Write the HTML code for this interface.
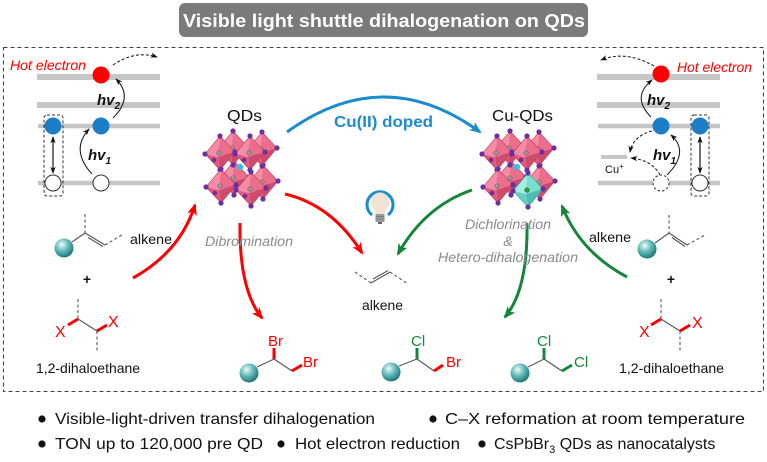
<!DOCTYPE html>
<html><head><meta charset="utf-8"><style>
html,body{margin:0;padding:0;background:#fff;}
svg{display:block;}
text{font-family:"Liberation Sans",Arial,sans-serif;}
</style></head><body>
<svg width="767" height="462" viewBox="0 0 767 462" xmlns="http://www.w3.org/2000/svg">
<defs>
  <radialGradient id="ball" cx="38%" cy="32%" r="70%">
    <stop offset="0" stop-color="#f2fbfb"/>
    <stop offset="0.45" stop-color="#6cc0c0"/>
    <stop offset="1" stop-color="#1b7474"/>
  </radialGradient>
  <marker id="ar" viewBox="0 0 12 10" refX="10" refY="5" markerWidth="13" markerHeight="10" markerUnits="userSpaceOnUse" orient="auto"><path d="M0,0 L12,5 L0,10 L3,5 z" fill="#ff0000"/></marker>
  <marker id="ag" viewBox="0 0 12 10" refX="10" refY="5" markerWidth="13" markerHeight="10" markerUnits="userSpaceOnUse" orient="auto"><path d="M0,0 L12,5 L0,10 L3,5 z" fill="#12873a"/></marker>
  <marker id="ab" viewBox="0 0 12 10" refX="10" refY="5" markerWidth="13" markerHeight="10" markerUnits="userSpaceOnUse" orient="auto"><path d="M0,0 L12,5 L0,10 L3,5 z" fill="#1a8bcc"/></marker>
  <marker id="ak" viewBox="0 0 8 6" refX="7" refY="3" markerWidth="7" markerHeight="6" markerUnits="userSpaceOnUse" orient="auto-start-reverse"><path d="M0,0 L8,3 L0,6 L2,3 z" fill="#111"/></marker>
  <g id="oct">
    <polygon points="0,-17 -15,1 -2,4" fill="#f58ca6"/>
    <polygon points="0,-17 -2,4 15,-1" fill="#ec6e8c"/>
    <polygon points="0,17 -15,1 -2,4" fill="#e05a7a"/>
    <polygon points="0,17 -2,4 15,-1" fill="#cf4b6b"/>
    <polygon points="0,-17 -15,1 0,17 15,-1" fill="none" stroke="#c14260" stroke-width="0.6"/>
    <circle cx="-1" cy="0" r="2.2" fill="#9a9a9a" stroke="#555" stroke-width="0.5"/>
    <circle cx="0" cy="-17" r="2.6" fill="#6b2fa3"/>
    <circle cx="0" cy="17" r="2.6" fill="#6b2fa3"/>
    <circle cx="-15" cy="1" r="2.6" fill="#6b2fa3"/>
    <circle cx="15" cy="-1" r="2.6" fill="#6b2fa3"/>
    <circle cx="-6" cy="7" r="2.3" fill="#6b2fa3"/>
  </g>
  <g id="octc">
    <polygon points="0,-17 -15,1 -2,4" fill="#9ef0e2"/>
    <polygon points="0,-17 -2,4 15,-1" fill="#78e0d0"/>
    <polygon points="0,17 -15,1 -2,4" fill="#63d2c2"/>
    <polygon points="0,17 -2,4 15,-1" fill="#4cbfb0"/>
    <polygon points="0,-17 -15,1 0,17 15,-1" fill="none" stroke="#3aa596" stroke-width="0.6"/>
    <circle cx="-1" cy="0" r="2.3" fill="#3b9a2e" stroke="#1e5e18" stroke-width="0.5"/>
    <circle cx="0" cy="-17" r="2.6" fill="#6b2fa3"/>
    <circle cx="0" cy="17" r="2.6" fill="#6b2fa3"/>
    <circle cx="-15" cy="1" r="2.6" fill="#6b2fa3"/>
    <circle cx="15" cy="-1" r="2.6" fill="#6b2fa3"/>
  </g>
  <g id="crystal">
    <use href="#oct" x="234" y="178"/>
    <use href="#oct" x="263" y="182"/>
    <use href="#oct" x="233" y="148"/>
    <use href="#oct" x="262" y="149"/>
    <use href="#oct" x="220" y="153"/>
    <use href="#oct" x="250" y="153"/>
    <use href="#oct" x="221" y="186"/>
  </g>
</defs>

<!-- Title -->
<rect x="179" y="3" width="409" height="34" rx="6" fill="#7b7b7b"/>
<text x="384" y="27" text-anchor="middle" font-size="18" font-weight="bold" fill="#fff" textLength="402" lengthAdjust="spacingAndGlyphs">Visible light shuttle dihalogenation on QDs</text>

<!-- dashed frame -->
<rect x="3.5" y="47.5" width="760" height="344" fill="none" stroke="#444" stroke-width="1.1" stroke-dasharray="4 3"/>

<!-- ===== Left energy diagram ===== -->
<g stroke="#c6c6c6" stroke-linecap="butt">
  <line x1="37" y1="77" x2="160" y2="77" stroke-width="6"/>
  <line x1="37" y1="105" x2="160" y2="105" stroke-width="6"/>
  <line x1="38" y1="126" x2="160" y2="126" stroke-width="4.5"/>
  <line x1="38" y1="183" x2="160" y2="183" stroke-width="4.5"/>
</g>
<rect x="44" y="115" width="19" height="81" rx="3" fill="none" stroke="#333" stroke-width="1" stroke-dasharray="3 2"/>
<circle cx="101" cy="75" r="8.5" fill="#ff0000"/>
<circle cx="53" cy="126" r="8.5" fill="#1b7ec6"/>
<circle cx="101" cy="126" r="8.5" fill="#1b7ec6"/>
<circle cx="53" cy="183" r="8" fill="#fff" stroke="#333" stroke-width="1"/>
<circle cx="101" cy="183" r="8" fill="#fff" stroke="#333" stroke-width="1"/>
<line x1="53" y1="137" x2="53" y2="173" stroke="#111" stroke-width="1.2" marker-start="url(#ak)" marker-end="url(#ak)"/>
<path d="M92,174 Q70,150 89,129" fill="none" stroke="#222" stroke-width="1.1" marker-end="url(#ak)"/>
<path d="M113,118 Q134,97 116,79" fill="none" stroke="#222" stroke-width="1.1" marker-end="url(#ak)"/>
<path d="M113,65 Q135,50 157,57" fill="none" stroke="#222" stroke-width="1.1" stroke-dasharray="3 2" marker-end="url(#ak)"/>
<text x="10" y="70" font-size="14" font-style="italic" fill="#ff0000" textLength="76" lengthAdjust="spacingAndGlyphs">Hot electron</text>
<text x="97" y="105" font-size="15" font-weight="bold" font-style="italic" fill="#111">hv<tspan font-size="10" dy="4">2</tspan></text>
<text x="88" y="160" font-size="15" font-weight="bold" font-style="italic" fill="#111">hv<tspan font-size="10" dy="4">1</tspan></text>

<!-- ===== Right energy diagram ===== -->
<g stroke="#c6c6c6" stroke-linecap="butt">
  <line x1="597" y1="77" x2="720" y2="77" stroke-width="6"/>
  <line x1="597" y1="105" x2="720" y2="105" stroke-width="6"/>
  <line x1="598" y1="126" x2="720" y2="126" stroke-width="4.5"/>
  <line x1="598" y1="183" x2="720" y2="183" stroke-width="4.5"/>
  <line x1="601" y1="157" x2="627" y2="157" stroke-width="4"/>
</g>
<rect x="691" y="115" width="18" height="81" rx="3" fill="none" stroke="#333" stroke-width="1" stroke-dasharray="3 2"/>
<circle cx="661" cy="74" r="8.5" fill="#ff0000"/>
<circle cx="661" cy="126" r="8.5" fill="#1b7ec6"/>
<circle cx="700" cy="126" r="8.5" fill="#1b7ec6"/>
<circle cx="661" cy="183" r="8" fill="#fff" stroke="#333" stroke-width="1" stroke-dasharray="2.5 2"/>
<circle cx="700" cy="183" r="8" fill="#fff" stroke="#333" stroke-width="1"/>
<line x1="700" y1="137" x2="700" y2="173" stroke="#111" stroke-width="1.2" marker-start="url(#ak)" marker-end="url(#ak)"/>
<path d="M667,175 Q690,152 671,135" fill="none" stroke="#222" stroke-width="1.1" marker-end="url(#ak)"/>
<path d="M651,117 Q631,97 652,80" fill="none" stroke="#222" stroke-width="1.1" marker-end="url(#ak)"/>
<path d="M652,131 Q633,136 630,152" fill="none" stroke="#222" stroke-width="1.1" stroke-dasharray="3 2" marker-end="url(#ak)"/>
<path d="M660,175 Q652,160 631,158" fill="none" stroke="#222" stroke-width="1.1" stroke-dasharray="3 2" marker-end="url(#ak)"/>
<path d="M654,66 Q626,50 601,60" fill="none" stroke="#222" stroke-width="1.1" stroke-dasharray="3 2" marker-end="url(#ak)"/>
<text x="677" y="72" font-size="14" font-style="italic" fill="#ff0000" textLength="75" lengthAdjust="spacingAndGlyphs">Hot electron</text>
<text x="647" y="105" font-size="15" font-weight="bold" font-style="italic" fill="#111">hv<tspan font-size="10" dy="4">2</tspan></text>
<text x="653" y="160" font-size="15" font-weight="bold" font-style="italic" fill="#111">hv<tspan font-size="10" dy="4">1</tspan></text>
<text x="605" y="173" font-size="11" fill="#111">Cu<tspan font-size="8" dy="-4">+</tspan></text>

<!-- ===== Center ===== -->
<text x="227" y="121" font-size="16" fill="#111" textLength="35" lengthAdjust="spacingAndGlyphs">QDs</text>
<text x="492" y="121" font-size="16" fill="#111" textLength="61" lengthAdjust="spacingAndGlyphs">Cu-QDs</text>
<path d="M287,132 Q384,62 480,132" fill="none" stroke="#1a8bcc" stroke-width="3" marker-end="url(#ab)"/>
<text x="334" y="127" font-size="16" font-weight="bold" fill="#1a8bcc" textLength="99" lengthAdjust="spacingAndGlyphs">Cu(II) doped</text>

<!-- crystals -->
<use href="#crystal"/>
<use href="#oct" x="251" y="189"/>
<circle cx="240" cy="167" r="3.2" fill="#35c0e0"/>
<use href="#crystal" x="277"/>
<use href="#octc" x="528" y="190"/>
<circle cx="517" cy="167" r="3.2" fill="#35c0e0"/>

<!-- bulb -->
<path d="M372,215 A13,13 0 1,1 388,215" fill="none" stroke="#1a8bcc" stroke-width="3"/>
<circle cx="380" cy="202" r="9.5" fill="#efe3d3"/>
<path d="M373,207 L376,214 L384,214 L387,207 z" fill="#efe3d3"/>
<rect x="375.5" y="214" width="9" height="8" fill="#9b9b9b"/>
<line x1="375.5" y1="216.5" x2="384.5" y2="216.5" stroke="#777" stroke-width="0.8"/>
<line x1="375.5" y1="219" x2="384.5" y2="219" stroke="#777" stroke-width="0.8"/>
<rect x="378" y="222" width="4" height="2" fill="#666"/>

<!-- red arrows -->
<path d="M285,194 Q332,205 362,253" fill="none" stroke="#ff0000" stroke-width="3" marker-end="url(#ar)"/>
<path d="M240,223 Q239,290 262,318" fill="none" stroke="#ff0000" stroke-width="3" marker-end="url(#ar)"/>
<path d="M133,278 Q180,252 195,205" fill="none" stroke="#ff0000" stroke-width="3" marker-end="url(#ar)"/>
<!-- green arrows -->
<path d="M472,190 Q425,206 398,254" fill="none" stroke="#12873a" stroke-width="3" marker-end="url(#ag)"/>
<path d="M527,223 Q528,290 505,317" fill="none" stroke="#12873a" stroke-width="3" marker-end="url(#ag)"/>
<path d="M627,277 Q580,252 562,206" fill="none" stroke="#12873a" stroke-width="3" marker-end="url(#ag)"/>

<g font-size="14" font-style="italic" fill="#8a8a8a">
  <text x="205" y="246" textLength="88" lengthAdjust="spacingAndGlyphs">Dibromination</text>
  <text x="465" y="229" textLength="86" lengthAdjust="spacingAndGlyphs">Dichlorination</text>
  <text x="508" y="246" text-anchor="middle">&amp;</text>
  <text x="438" y="262" textLength="140" lengthAdjust="spacingAndGlyphs">Hetero-dihalogenation</text>
</g>

<!-- center alkene -->
<g stroke="#555" stroke-width="1.1" fill="none">
  <line x1="355" y1="272" x2="371" y2="283" stroke-dasharray="3 2.5"/>
  <line x1="371" y1="283" x2="390" y2="272"/>
  <line x1="373" y1="279" x2="388" y2="270.5"/>
  <line x1="390" y1="272" x2="408" y2="284" stroke-dasharray="3 2.5"/>
</g>
<text x="362" y="310" font-size="14" fill="#111" textLength="41" lengthAdjust="spacingAndGlyphs">alkene</text>

<!-- left alkene -->
<g stroke="#555" stroke-width="1.1" fill="none">
  <line x1="72" y1="242" x2="85" y2="233"/>
  <line x1="85" y1="214" x2="85" y2="233" stroke-dasharray="3 2.5"/>
  <line x1="85" y1="233" x2="105" y2="245"/>
  <line x1="88" y1="237.5" x2="103" y2="246.5"/>
  <line x1="105" y1="245" x2="122" y2="235" stroke-dasharray="3 2.5"/>
</g>
<circle cx="64" cy="248" r="9.5" fill="url(#ball)"/>
<text x="130" y="244" font-size="14" fill="#111" textLength="42" lengthAdjust="spacingAndGlyphs">alkene</text>
<text x="87" y="284" font-size="14" font-weight="bold" fill="#111" text-anchor="middle">+</text>
<!-- left dihaloethane -->
<g stroke="#555" stroke-width="1.1" fill="none">
  <line x1="78" y1="299" x2="78" y2="319" stroke-dasharray="3 2.5"/>
  <line x1="78" y1="319" x2="97" y2="331"/>
  <line x1="97" y1="331" x2="97" y2="352" stroke-dasharray="3 2.5"/>
</g>
<g stroke="#ff0000" stroke-width="3">
  <line x1="78" y1="319" x2="68" y2="325"/>
  <line x1="97" y1="331" x2="107" y2="325"/>
</g>
<text x="55" y="337" font-size="16" fill="#ff0000">X</text>
<text x="108" y="327" font-size="16" fill="#ff0000">X</text>
<text x="36" y="373" font-size="14" fill="#111" textLength="104" lengthAdjust="spacingAndGlyphs">1,2-dihaloethane</text>

<!-- right alkene -->
<g stroke="#555" stroke-width="1.1" fill="none">
  <line x1="655" y1="243" x2="669" y2="233"/>
  <line x1="669" y1="215" x2="669" y2="233" stroke-dasharray="3 2.5"/>
  <line x1="669" y1="233" x2="687" y2="245"/>
  <line x1="672" y1="237.5" x2="685" y2="246.5"/>
  <line x1="687" y1="245" x2="705" y2="235" stroke-dasharray="3 2.5"/>
</g>
<circle cx="647" cy="249" r="9.5" fill="url(#ball)"/>
<text x="589" y="242" font-size="14" fill="#111" textLength="42" lengthAdjust="spacingAndGlyphs">alkene</text>
<text x="671" y="284" font-size="14" font-weight="bold" fill="#111" text-anchor="middle">+</text>
<g stroke="#555" stroke-width="1.1" fill="none">
  <line x1="661" y1="299" x2="661" y2="319" stroke-dasharray="3 2.5"/>
  <line x1="661" y1="319" x2="680" y2="331"/>
  <line x1="680" y1="331" x2="680" y2="352" stroke-dasharray="3 2.5"/>
</g>
<g stroke="#ff0000" stroke-width="3">
  <line x1="661" y1="319" x2="651" y2="325"/>
  <line x1="680" y1="331" x2="690" y2="325"/>
</g>
<text x="639" y="337" font-size="16" fill="#ff0000">X</text>
<text x="692" y="328" font-size="16" fill="#ff0000">X</text>
<text x="619" y="373" font-size="14" fill="#111" textLength="105" lengthAdjust="spacingAndGlyphs">1,2-dihaloethane</text>

<!-- products -->
<g stroke="#555" stroke-width="1.1" fill="none">
  <line x1="257" y1="367" x2="274" y2="359"/>
  <line x1="274" y1="359" x2="292" y2="371"/>
  <line x1="399" y1="366" x2="417" y2="359"/>
  <line x1="417" y1="359" x2="434" y2="371"/>
  <line x1="528" y1="367" x2="544" y2="359"/>
  <line x1="544" y1="359" x2="562" y2="371"/>
</g>
<g stroke-width="3">
  <line x1="274" y1="359" x2="274" y2="348" stroke="#ff0000"/>
  <line x1="292" y1="371" x2="302" y2="365" stroke="#ff0000"/>
  <line x1="417" y1="359" x2="417" y2="348" stroke="#12873a"/>
  <line x1="434" y1="371" x2="443" y2="365" stroke="#ff0000"/>
  <line x1="544" y1="359" x2="544" y2="348" stroke="#12873a"/>
  <line x1="562" y1="371" x2="572" y2="365" stroke="#12873a"/>
</g>
<circle cx="249" cy="373" r="9.5" fill="url(#ball)"/>
<circle cx="391" cy="372" r="9.5" fill="url(#ball)"/>
<circle cx="520" cy="373" r="9.5" fill="url(#ball)"/>
<g font-size="15">
  <text x="268" y="346" fill="#ff0000">Br</text>
  <text x="303" y="367" fill="#ff0000">Br</text>
  <text x="411" y="346" fill="#12873a">Cl</text>
  <text x="446" y="367" fill="#ff0000">Br</text>
  <text x="537" y="346" fill="#12873a">Cl</text>
  <text x="574" y="367" fill="#12873a">Cl</text>
</g>

<!-- bullets -->
<g fill="#111">
  <circle cx="42" cy="419" r="3.6"/>
  <circle cx="433" cy="419" r="3.6"/>
  <circle cx="42" cy="444" r="3.6"/>
  <circle cx="281" cy="444" r="3.6"/>
  <circle cx="482" cy="444" r="3.6"/>
</g>
<g font-size="16" fill="#111">
  <text x="55" y="424" textLength="320" lengthAdjust="spacingAndGlyphs">Visible-light-driven transfer dihalogenation</text>
  <text x="445" y="424" textLength="300" lengthAdjust="spacingAndGlyphs">C–X reformation at room temperature</text>
  <text x="55" y="449" textLength="208" lengthAdjust="spacingAndGlyphs">TON up to 120,000 pre QD</text>
  <text x="295" y="449" textLength="165" lengthAdjust="spacingAndGlyphs">Hot electron reduction</text>
  <text x="494" y="449">CsPbBr<tspan font-size="11" dy="4">3</tspan><tspan dy="-4"> QDs as nanocatalysts</tspan></text>
</g>
</svg>
</body></html>
